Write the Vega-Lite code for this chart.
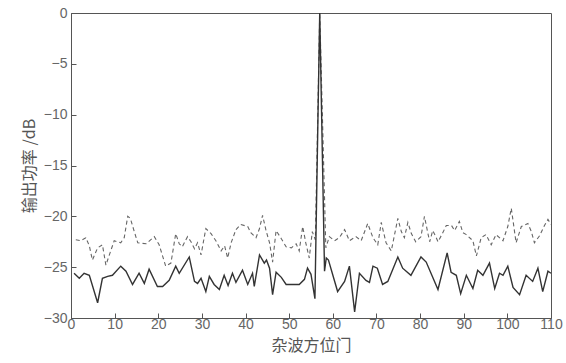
{
  "$schema": "https://vega.github.io/schema/vega-lite/v6.json",
  "width": 480,
  "height": 305,
  "autosize": {"type": "none"},
  "padding": {"left": 71, "top": 13, "right": 15, "bottom": 45},
  "background": "white",
  "config": {
    "view": {"stroke": "#555", "strokeWidth": 1},
    "axis": {"labelFont": "Liberation Sans", "labelFontSize": 14, "labelColor": "#666", "titleColor": "#555", "domainColor": "#555", "tickColor": "#555", "grid": false}
  },
  "datasets": {
    "solid": [
      {"x":0.7,"y":-25.6},{"x":1.9,"y":-26.1},{"x":3.0,"y":-25.6},{"x":4.2,"y":-25.8},{"x":6.1,"y":-28.5},{"x":7.2,"y":-26.1},{"x":8.4,"y":-25.9},{"x":9.5,"y":-25.8},{"x":11.4,"y":-24.9},{"x":12.6,"y":-25.4},{"x":14.1,"y":-26.7},{"x":15.6,"y":-25.6},{"x":16.8,"y":-26.6},{"x":17.9,"y":-25.2},{"x":19.8,"y":-26.9},{"x":21.0,"y":-26.9},{"x":22.5,"y":-26.3},{"x":24.0,"y":-24.9},{"x":24.8,"y":-25.6},{"x":27.1,"y":-24.0},{"x":28.3,"y":-26.4},{"x":29.0,"y":-26.6},{"x":29.8,"y":-26.1},{"x":30.9,"y":-27.4},{"x":31.7,"y":-25.9},{"x":32.8,"y":-26.7},{"x":34.0,"y":-27.2},{"x":35.1,"y":-25.8},{"x":36.0,"y":-26.8},{"x":37.0,"y":-25.6},{"x":37.8,"y":-26.5},{"x":39.3,"y":-25.3},{"x":40.5,"y":-26.7},{"x":41.6,"y":-25.6},{"x":42.0,"y":-26.9},{"x":43.2,"y":-23.8},{"x":44.3,"y":-24.6},{"x":44.8,"y":-24.3},{"x":45.5,"y":-25.1},{"x":46.2,"y":-27.7},{"x":47.0,"y":-25.5},{"x":48.2,"y":-26.0},{"x":49.3,"y":-26.7},{"x":51.0,"y":-26.7},{"x":52.3,"y":-26.7},{"x":53.5,"y":-26.2},{"x":54.2,"y":-25.1},{"x":55.0,"y":-25.7},{"x":55.9,"y":-28.1},{"x":57.0,"y":0},{"x":58.1,"y":-25.4},{"x":58.5,"y":-24.1},{"x":59.0,"y":-24.3},{"x":61.1,"y":-27.4},{"x":62.7,"y":-26.4},{"x":63.8,"y":-24.9},{"x":65.0,"y":-29.4},{"x":66.1,"y":-25.6},{"x":67.6,"y":-26.3},{"x":68.4,"y":-26.5},{"x":69.2,"y":-24.9},{"x":70.2,"y":-25.1},{"x":71.4,"y":-26.7},{"x":72.6,"y":-26.4},{"x":74.9,"y":-24.0},{"x":76.0,"y":-25.1},{"x":77.9,"y":-25.8},{"x":80.2,"y":-24.0},{"x":81.4,"y":-24.5},{"x":84.1,"y":-27.2},{"x":86.2,"y":-23.6},{"x":87.1,"y":-25.5},{"x":88.3,"y":-25.8},{"x":89.3,"y":-27.6},{"x":90.6,"y":-25.8},{"x":92.1,"y":-27.1},{"x":93.2,"y":-25.3},{"x":94.4,"y":-25.8},{"x":95.9,"y":-24.6},{"x":97.1,"y":-27.1},{"x":98.2,"y":-25.6},{"x":99.0,"y":-25.8},{"x":100.1,"y":-24.9},{"x":101.3,"y":-27.0},{"x":102.8,"y":-27.7},{"x":104.3,"y":-25.8},{"x":105.8,"y":-26.4},{"x":107.0,"y":-25.1},{"x":108.1,"y":-27.4},{"x":109.3,"y":-25.4},{"x":110,"y":-25.6}
    ],
    "dashed": [
      {"x":1.1,"y":-22.3},{"x":2.2,"y":-22.4},{"x":3.4,"y":-22.1},{"x":4.2,"y":-22.9},{"x":4.9,"y":-24.3},{"x":6.1,"y":-23.1},{"x":7.2,"y":-22.8},{"x":8.0,"y":-24.8},{"x":9.1,"y":-23.4},{"x":9.9,"y":-22.4},{"x":11.4,"y":-22.6},{"x":12.2,"y":-22.1},{"x":13.0,"y":-20.0},{"x":13.6,"y":-20.2},{"x":14.5,"y":-21.5},{"x":15.3,"y":-22.6},{"x":17.2,"y":-22.7},{"x":19.1,"y":-22.0},{"x":20.2,"y":-22.8},{"x":21.7,"y":-24.9},{"x":22.9,"y":-24.6},{"x":24.0,"y":-21.7},{"x":24.8,"y":-22.7},{"x":25.5,"y":-23.0},{"x":26.7,"y":-22.0},{"x":27.5,"y":-22.5},{"x":28.3,"y":-23.2},{"x":29.0,"y":-22.6},{"x":29.8,"y":-23.8},{"x":30.9,"y":-21.2},{"x":32.1,"y":-21.7},{"x":33.2,"y":-22.4},{"x":34.4,"y":-23.4},{"x":35.2,"y":-22.9},{"x":35.9,"y":-24.1},{"x":36.7,"y":-22.6},{"x":37.8,"y":-21.3},{"x":38.9,"y":-20.8},{"x":40.5,"y":-21.0},{"x":41.2,"y":-21.6},{"x":42.4,"y":-22.1},{"x":43.2,"y":-21.2},{"x":43.9,"y":-19.9},{"x":44.7,"y":-21.4},{"x":45.5,"y":-22.6},{"x":46.2,"y":-24.5},{"x":47.0,"y":-21.4},{"x":48.2,"y":-22.2},{"x":49.3,"y":-23.0},{"x":50.5,"y":-23.1},{"x":51.6,"y":-22.7},{"x":52.3,"y":-23.4},{"x":53.1,"y":-21.0},{"x":53.8,"y":-22.6},{"x":54.6,"y":-24.1},{"x":55.3,"y":-21.5},{"x":56.0,"y":-22.3},{"x":57.0,"y":0},{"x":58.4,"y":-23.1},{"x":59.2,"y":-22.0},{"x":60.4,"y":-22.4},{"x":61.5,"y":-22.1},{"x":62.7,"y":-21.3},{"x":63.8,"y":-22.4},{"x":65.3,"y":-22.0},{"x":66.5,"y":-22.4},{"x":68.0,"y":-20.7},{"x":69.2,"y":-22.1},{"x":70.3,"y":-22.8},{"x":71.1,"y":-20.6},{"x":72.2,"y":-22.6},{"x":73.4,"y":-23.4},{"x":74.9,"y":-20.2},{"x":75.7,"y":-21.5},{"x":76.4,"y":-22.1},{"x":77.2,"y":-20.6},{"x":78.0,"y":-21.7},{"x":79.0,"y":-22.5},{"x":80.2,"y":-22.0},{"x":81.0,"y":-20.0},{"x":81.8,"y":-21.7},{"x":82.2,"y":-22.5},{"x":82.9,"y":-21.4},{"x":83.6,"y":-22.0},{"x":84.1,"y":-22.5},{"x":85.1,"y":-21.7},{"x":86.0,"y":-20.9},{"x":87.2,"y":-20.9},{"x":87.9,"y":-21.4},{"x":89.0,"y":-20.5},{"x":89.8,"y":-21.6},{"x":90.6,"y":-21.8},{"x":92.1,"y":-22.4},{"x":92.9,"y":-23.9},{"x":94.0,"y":-22.1},{"x":95.1,"y":-21.8},{"x":96.3,"y":-22.8},{"x":97.4,"y":-21.8},{"x":99.0,"y":-22.4},{"x":100.1,"y":-21.0},{"x":100.9,"y":-19.2},{"x":102.0,"y":-22.6},{"x":103.2,"y":-21.0},{"x":104.7,"y":-20.7},{"x":105.5,"y":-21.5},{"x":106.2,"y":-22.6},{"x":107.4,"y":-21.9},{"x":108.5,"y":-20.9},{"x":109.3,"y":-20.3},{"x":110,"y":-20.8}
    ]
  },
  "encoding": {
    "x": {"field": "x", "type": "quantitative", "scale": {"domain": [0, 110], "nice": false, "zero": false},
      "axis": {"values": [0,10,20,30,40,50,60,70,80,90,100,110], "tickSize": -5, "labelPadding": 4, "title": "杂波方位门", "titleFont": "Noto Sans CJK SC", "titleFontSize": 16, "titleFontWeight": "normal", "titlePadding": 6, "labelFlush": false}},
    "y": {"field": "y", "type": "quantitative", "scale": {"domain": [-30, 0], "nice": false},
      "axis": {"values": [0,-5,-10,-15,-20,-25,-30], "tickSize": -5, "labelPadding": 9, "title": "输出功率 /dB", "titleFont": "Noto Sans CJK SC", "titleFontSize": 16, "titleFontWeight": "normal", "titlePadding": 6, "labelFlush": false}}
  },
  "layer": [
    {"data": {"name": "dashed"}, "mark": {"type": "line", "color": "#666", "strokeWidth": 1.1, "strokeDash": [4, 3], "clip": true}},
    {"data": {"name": "solid"}, "mark": {"type": "line", "color": "#333", "strokeWidth": 1.4, "clip": true}}
  ]
}
